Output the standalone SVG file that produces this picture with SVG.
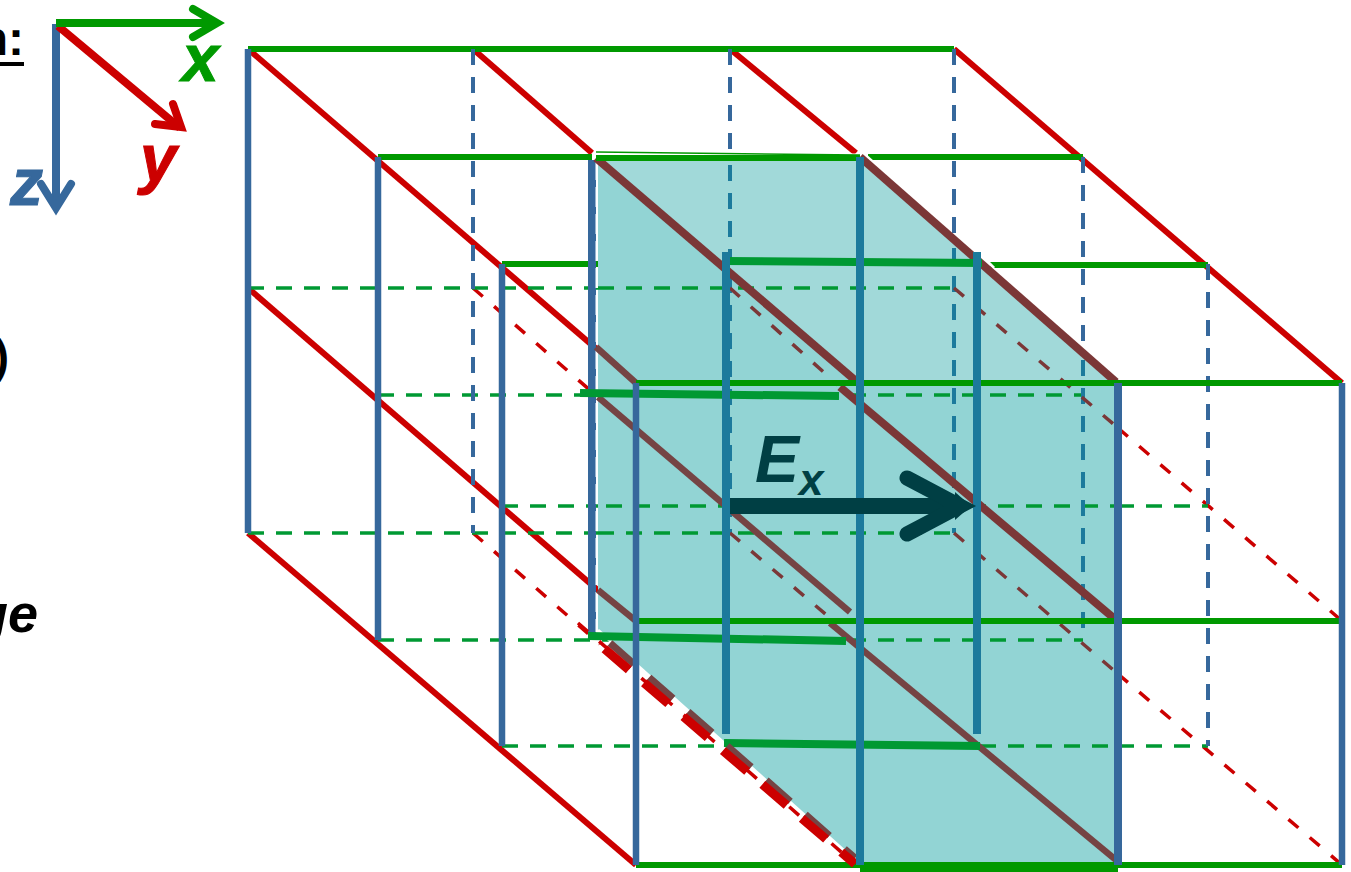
<svg xmlns="http://www.w3.org/2000/svg" width="1351" height="872" viewBox="0 0 1351 872">
<style>
line,polyline{fill:none}
.r{stroke:#cc0000;stroke-width:6}
.rd{stroke:#cc0000;stroke-width:3.5;stroke-dasharray:13 15}
.rt{stroke:#cc0000;stroke-width:9;stroke-dasharray:32 20}
.rb{stroke:#754444;stroke-width:7;stroke-dasharray:32 20}
.g{stroke:#009900;stroke-width:6}
.gd{stroke:#009933;stroke-width:3.5;stroke-dasharray:16 12}
.gt{stroke:#009933;stroke-width:8}
.b{stroke:#36689c;stroke-width:6.5}
.bd{stroke:#36689c;stroke-width:4;stroke-dasharray:16 12}
.t{stroke:#1c7a9c;stroke-width:8}
.td{stroke:#1c7a9c;stroke-width:4;stroke-dasharray:16 12}
.br{stroke:#7b3737;stroke-width:8}
.brl{stroke:#754444;stroke-width:6.5}
.brd{stroke:#7b3737;stroke-width:3.5;stroke-dasharray:13 15}
text{font-family:"Liberation Sans",Arial,sans-serif;font-weight:bold}
.i{font-style:italic}
.k{stroke-width:1;stroke:currentColor}
</style>
<g id="cut-text">
<text x="24" y="55" font-size="48" text-anchor="end" fill="#000">n:</text>
<line x1="0" y1="64" x2="24" y2="64" stroke="#000" stroke-width="4"/>
<text x="9" y="372" font-size="46" text-anchor="end" fill="#000">)</text>
<text x="38" y="632" font-size="54" text-anchor="end" class="i" fill="#000">ge</text>
</g>
<g id="axes" stroke-linecap="round">
<line x1="56" y1="24" x2="56" y2="205" stroke="#36689c" stroke-width="8" stroke-linecap="butt"/>
<polyline points="41,184 56,208 71,184" stroke="#36689c" stroke-width="8"/>
<line x1="58" y1="26" x2="180" y2="128" stroke="#cc0000" stroke-width="8" stroke-linecap="butt"/>
<polyline points="173,104 181,127 155,124" stroke="#cc0000" stroke-width="8"/>
<line x1="56" y1="23" x2="214" y2="23" stroke="#009900" stroke-width="8" stroke-linecap="butt"/>
<polyline points="193,9 217,23 193,37" stroke="#009900" stroke-width="8"/>
<text x="182" y="81" font-size="66" class="i k" fill="#009900" color="#009900">x</text>
<text x="140" y="181" font-size="66" class="i k" fill="#cc0000" color="#cc0000">y</text>
<text x="10" y="205" font-size="66" class="i k" fill="#36689c" color="#36689c">z</text>
</g>
<g id="grid-back">
<line class="r" x1="248" y1="49" x2="636" y2="383"/>
<line class="r" x1="473" y1="49" x2="592" y2="153"/>
<line class="r" x1="730" y1="49" x2="856" y2="153"/>
<line class="r" x1="954" y1="49" x2="1342" y2="383"/>
<line class="r" x1="248" y1="288" x2="600" y2="592"/>
<line class="r" x1="248" y1="533" x2="636" y2="865"/>
<line class="rd" x1="473" y1="288" x2="600" y2="399"/>
<line class="rd" x1="1118" y1="428" x2="1342" y2="621"/>
<line class="rd" x1="1118" y1="674" x2="1342" y2="865"/>
<line class="rd" x1="473" y1="533" x2="600" y2="644"/>
<line class="g" x1="248" y1="49" x2="954" y2="49"/>
<line class="g" x1="378" y1="157" x2="592" y2="157"/>
<line class="g" x1="868" y1="157" x2="1083" y2="157"/>
<line class="g" x1="502" y1="264" x2="726" y2="264"/>
<line class="g" x1="990" y1="265" x2="1208" y2="265"/>
<line class="gd" x1="248" y1="288" x2="954" y2="288"/>
<line class="gd" x1="378" y1="395" x2="1083" y2="395"/>
<line class="gd" x1="502" y1="506" x2="1208" y2="506"/>
<line class="gd" x1="248" y1="533" x2="954" y2="533"/>
<line class="gd" x1="378" y1="640" x2="1083" y2="640"/>
<line class="gd" x1="502" y1="746" x2="1208" y2="746"/>
<line class="b" x1="248" y1="49" x2="248" y2="533"/>
<line class="b" x1="378" y1="157" x2="378" y2="640"/>
<line class="b" x1="502" y1="264" x2="502" y2="746"/>
<line class="bd" x1="473" y1="49" x2="473" y2="533"/>
<line class="bd" x1="730" y1="49" x2="730" y2="250"/>
<line class="bd" x1="954" y1="49" x2="954" y2="533"/>
<line class="bd" x1="1083" y1="157" x2="1083" y2="640"/>
<line class="bd" x1="1208" y1="264" x2="1208" y2="746"/>
<line x1="592" y1="160" x2="592" y2="640" stroke="#36689c" stroke-width="8"/>
<line x1="597" y1="160" x2="597" y2="632" stroke="#fff" stroke-width="3" stroke-dasharray="20 7"/>
<line x1="595" y1="155" x2="860" y2="155" stroke="#fff" stroke-width="3"/>
</g>
<g id="plane">
<polygon points="598,160 862,157 1118,381 1118,865 860,865 598,630" fill="#92d4d4"/>
<polygon points="598,160 862,158 1118,381 860,383" fill="#a1d9d9"/>
<line x1="864" y1="154" x2="882" y2="170" stroke="#fff" stroke-width="3"/>
<line x1="980" y1="254" x2="994" y2="268" stroke="#fff" stroke-width="3"/>
<line x1="598" y1="630" x2="858" y2="863" stroke="#fff" stroke-width="3"/>
</g>
<g id="connectors">
<line class="gd" x1="598" y1="288" x2="954" y2="288"/>
<line class="gd" x1="598" y1="395" x2="1083" y2="395"/>
<line class="gd" x1="606" y1="506" x2="1118" y2="506"/>
<line class="gd" x1="598" y1="533" x2="954" y2="533"/>
<line class="gd" x1="850" y1="640" x2="1083" y2="640"/>
<line class="gd" x1="980" y1="746" x2="1118" y2="746"/>
<line class="td" x1="730" y1="165" x2="730" y2="535"/>
<line class="td" x1="954" y1="248" x2="954" y2="533"/>
<line class="td" x1="1083" y1="360" x2="1083" y2="640"/>
<line class="brd" x1="730" y1="288" x2="838" y2="385"/>
<line class="brd" x1="954" y1="288" x2="1118" y2="428"/>
<line class="brd" x1="954" y1="533" x2="1118" y2="674"/>
<line class="brd" x1="730" y1="533" x2="830" y2="618"/>
<line class="br" x1="596" y1="158" x2="856" y2="381"/>
<line class="br" x1="860" y1="157" x2="1116" y2="382"/>
<line class="br" x1="840" y1="387" x2="1116" y2="620"/>
<line class="brl" x1="596" y1="347" x2="636" y2="383"/>
<line class="brl" x1="598" y1="397" x2="850" y2="612"/>
<line class="brl" x1="830" y1="623" x2="1116" y2="860"/>
<line class="brl" x1="598" y1="590" x2="636" y2="621"/>
<line class="gt" x1="580" y1="393" x2="839" y2="396"/>
<line class="gt" x1="588" y1="636" x2="846" y2="641"/>
<line class="gt" x1="724" y1="261" x2="982" y2="263"/>
<line class="gt" x1="724" y1="743" x2="980" y2="746"/>
<line class="g" x1="596" y1="158" x2="860" y2="158"/>
<line x1="596" y1="152" x2="860" y2="155" stroke="#009900" stroke-width="1.5"/>
<line class="g" x1="636" y1="383" x2="1342" y2="383"/>
<line class="g" x1="636" y1="621" x2="1342" y2="621"/>
<line class="g" x1="636" y1="865" x2="1342" y2="865"/>
<line x1="860" y1="868" x2="1118" y2="868" stroke="#009900" stroke-width="8"/>
<line class="rb" x1="610" y1="643" x2="855" y2="858"/>
<line class="rt" x1="600" y1="645" x2="855" y2="864" stroke-dashoffset="-6"/>
<line class="rd" x1="578" y1="623" x2="855" y2="864"/>
<line class="b" x1="636" y1="383" x2="636" y2="865"/>
<line class="b" x1="1342" y1="383" x2="1342" y2="865"/>
<line class="t" x1="860" y1="157" x2="860" y2="865"/>
<line class="t" x1="726" y1="252" x2="726" y2="734"/>
<line class="t" x1="977" y1="252" x2="977" y2="734"/>
<line class="b" x1="1118" y1="383" x2="1118" y2="865" style="stroke-width:8"/>
</g>
<g id="field">
<line x1="730" y1="506" x2="960" y2="506" stroke="#003f44" stroke-width="16"/>
<polyline points="907,478 960,506 907,534" fill="none" stroke="#003f44" stroke-width="15" stroke-linecap="round"/>
<polygon points="955,492 971,506 955,520" fill="#003f44"/>
<text x="755" y="482" font-size="66" class="i" fill="#003f44">E</text>
<text x="799" y="495" font-size="44" class="i" fill="#003f44">x</text>
</g>
</svg>
